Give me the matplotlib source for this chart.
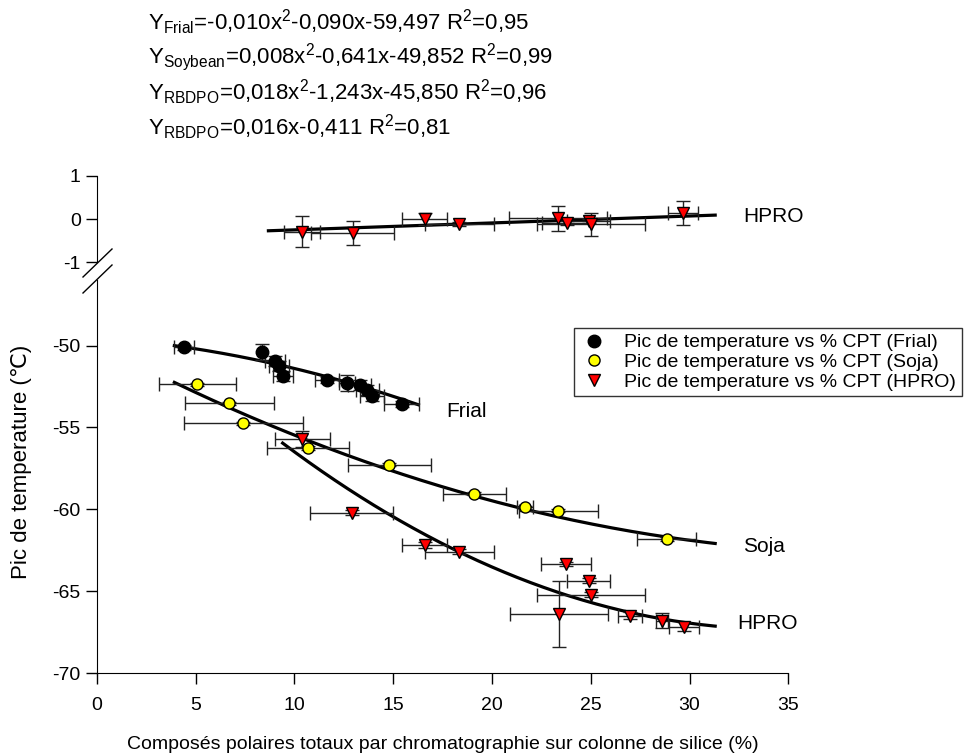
import numpy as np
import matplotlib
matplotlib.use('Agg')
import matplotlib.pyplot as plt
from matplotlib.lines import Line2D

plt.rcParams['font.family'] = ['Liberation Sans', 'DejaVu Sans']
plt.rcParams['mathtext.fontset'] = 'custom'
plt.rcParams['mathtext.rm'] = 'Liberation Sans'
plt.rcParams['mathtext.default'] = 'regular'
plt.rcParams['axes.unicode_minus'] = False

# ---------------------------------------------------------------------------
# Data
# ---------------------------------------------------------------------------
# Frial (black circles)
frial_x = [4.43, 8.37, 9.02, 9.23, 9.44, 11.67, 12.68, 13.30, 13.70, 13.93, 15.43]
frial_y = [-50.1, -50.4, -50.96, -51.26, -51.85, -52.1, -52.3, -52.4, -52.7, -53.07, -53.56]
frial_xerr = [0.5, 0.1, 0.5, 0.5, 0.5, 0.6, 0.4, 0.6, 0.6, 0.6, 0.9]
frial_yerr = [0.15, 0.5, 0.3, 0.3, 0.3, 0.2, 0.5, 0.3, 0.3, 0.3, 0.2]

# Soja (yellow circles)
soja_x = [5.09, 6.71, 7.42, 10.68, 14.81, 19.11, 21.68, 23.36, 28.85]
soja_y = [-52.36, -53.52, -54.74, -56.26, -57.28, -59.05, -59.87, -60.07, -61.8]
soja_xerr = [1.96, 2.24, 3.0, 2.08, 2.1, 1.6, 0.4, 2.0, 1.5]
soja_yerr = [0.1, 0.1, 0.1, 0.1, 0.1, 0.1, 0.1, 0.1, 0.1]

# HPRO, lower segment (red triangles)
hpro_x = [10.4, 12.9, 16.6, 18.35, 23.4, 23.75, 24.9, 25.0, 27.0, 28.6, 29.72]
hpro_y = [-55.7, -60.2, -62.17, -62.58, -66.38, -63.33, -64.35, -65.2, -66.48, -66.8, -67.15]
hpro_xerr = [1.4, 2.1, 1.14, 1.75, 2.47, 1.25, 1.1, 2.73, 0.6, 0.3, 0.76]
hpro_yerr = [0.5, 0.15, 0.2, 0.15, 2.0, 0.1, 0.15, 0.15, 0.2, 0.45, 0.25]

# HPRO, upper segment (red triangles)
hpro_up_x = [10.4, 12.95, 16.6, 18.35, 23.36, 23.78, 24.9, 25.0, 29.69]
hpro_up_y = [-0.29, -0.32, -0.01, -0.12, 0.02, -0.10, -0.05, -0.12, 0.13]
hpro_up_xerr = [0.9, 2.1, 1.15, 1.75, 2.47, 1.25, 1.1, 2.73, 0.76]
hpro_up_yerr = [0.35, 0.27, 0.14, 0.05, 0.29, 0.05, 0.05, 0.27, 0.28]

# regression coefficients (highest power first) and x range of each curve
frial_coef = [-0.010, -0.090, -49.497]
frial_range = [3.93, 16.28]
soja_coef = [0.008, -0.641, -49.852]
soja_range = [3.93, 31.3]
hpro_coef = [0.018, -1.243, -45.850]
hpro_range = [9.41, 31.3]
hpro_up_coef = [0.016, -0.411]
hpro_up_range = [8.69, 31.3]

equations = [
    r'Y$_{Frial}$=-0,010x$^{2}$-0,090x-59,497 R$^{2}$=0,95',
    r'Y$_{Soybean}$=0,008x$^{2}$-0,641x-49,852 R$^{2}$=0,99',
    r'Y$_{RBDPO}$=0,018x$^{2}$-1,243x-45,850 R$^{2}$=0,96',
    r'Y$_{RBDPO}$=0,016x-0,411 R$^{2}$=0,81',
]

# ---------------------------------------------------------------------------
W, H = 971, 753
fig = plt.figure(figsize=(W / 100, H / 100), dpi=100)

left = 96.7 / W
width = 691.6 / W
ax_up = fig.add_axes([left, 1 - 262.3 / H, width, 86.6 / H])
ax = fig.add_axes([left, 1 - 673.3 / H, width, 393.3 / H])

eb_kw = dict(ecolor='#222222', elinewidth=1.0, capsize=5, capthick=1.0, linestyle='none')


def curve(a, coef, rng):
    xx = np.linspace(rng[0], rng[1], 200)
    a.plot(xx, np.polyval(coef, xx), color='black', linewidth=2.3, zorder=2)


curve(ax, frial_coef, frial_range)
curve(ax, soja_coef, soja_range)
curve(ax, hpro_coef, hpro_range)
curve(ax_up, hpro_up_coef, hpro_up_range)

ax.errorbar(frial_x, frial_y, xerr=frial_xerr, yerr=frial_yerr, fmt='o',
            mfc='black', mec='black', ms=9, zorder=3, **eb_kw)
ax.errorbar(soja_x, soja_y, xerr=soja_xerr, yerr=soja_yerr, fmt='o',
            mfc='#FFFF00', mec='black', mew=1.0, ms=8, zorder=3, **eb_kw)
ax.errorbar(hpro_x, hpro_y, xerr=hpro_xerr, yerr=hpro_yerr, fmt='v',
            mfc='#FF0000', mec='black', mew=1.0, ms=9, zorder=3, **eb_kw)
ax_up.errorbar(hpro_up_x, hpro_up_y, xerr=hpro_up_xerr, yerr=hpro_up_yerr, fmt='v',
               mfc='#FF0000', mec='black', mew=1.0, ms=9, zorder=3, **eb_kw)

# curve labels
ax.text(17.7, -54.0, 'Frial', fontsize=15, va='center')
ax.text(32.7, -62.25, 'Soja', fontsize=15, va='center')
ax.text(32.4, -66.95, 'HPRO', fontsize=15, va='center')
ax_up.text(32.7, 0.05, 'HPRO', fontsize=15, va='center')

# axes styling
for a in (ax, ax_up):
    a.set_xlim(0, 35)
    a.spines['top'].set_visible(False)
    a.spines['right'].set_visible(False)
    a.tick_params(direction='out', length=8, width=1, labelsize=14)
    a.patch.set_alpha(0)

ax.set_ylim(-70, -46)
ax.set_yticks([-70, -65, -60, -55, -50])
ax.set_xticks(np.arange(0, 36, 5))
ax.tick_params(axis='x', pad=9)

ax_up.set_ylim(-1, 1)
ax_up.set_yticks([-1, 0, 1])
ax_up.spines['bottom'].set_visible(False)
ax_up.tick_params(axis='x', bottom=False, labelbottom=False)

ax.set_xlabel('Composés polaires totaux par chromatographie sur colonne de silice (%)',
              fontsize=14, labelpad=16)
fig.text(22 / W, 1 - 462 / H, 'Pic de temperature (℃)', fontsize=16,
         rotation=90, ha='center', va='center')

# axis break marks
for y0 in (277, 293):
    fig.add_artist(Line2D([83 / W, 112 / W], [1 - y0 / H, 1 - (y0 - 28) / H],
                          color='black', linewidth=1.0))

# legend
handles = [
    Line2D([], [], marker='o', ls='none', mfc='black', mec='black', ms=9),
    Line2D([], [], marker='o', ls='none', mfc='#FFFF00', mec='black', ms=8),
    Line2D([], [], marker='v', ls='none', mfc='#FF0000', mec='black', ms=9),
]
labels = ['Pic de temperature vs % CPT (Frial)',
          'Pic de temperature vs % CPT (Soja)',
          'Pic de temperature vs % CPT (HPRO)']
leg = fig.legend(handles, labels, loc='upper right',
                 bbox_to_anchor=(962 / W, 1 - 328 / H), fontsize=14,
                 frameon=True, fancybox=False, edgecolor='black',
                 borderpad=0.3, handletextpad=0.8, labelspacing=0.1, handlelength=1.5,
                 borderaxespad=0)
leg.get_frame().set_linewidth(1.0)

# regression equations
for i, eq in enumerate(equations):
    fig.text(148 / W, 1 - (22 + 35 * i) / H, eq, fontsize=16, va='center')

fig.savefig('out.png', dpi=100, facecolor='white')
